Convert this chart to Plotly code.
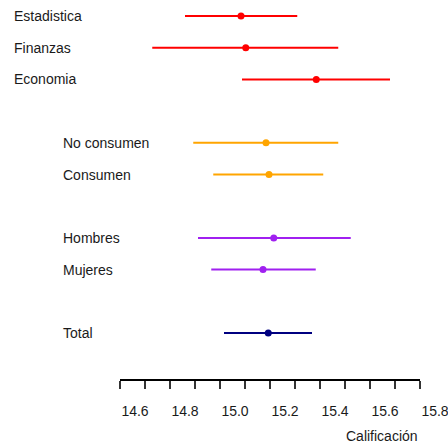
import plotly.graph_objects as go

# Data
labels = ["Estadistica", "Finanzas", "Economia", "No consumen", "Consumen",
          "Hombres", "Mujeres", "Total"]
rows = [0, 1, 2, 4, 5, 7, 8, 10]
indent = [0, 0, 0, 1, 1, 1, 1, 1]
means = [15.084, 15.103, 15.385, 15.184, 15.196, 15.215, 15.172, 15.193]
lower = [14.860, 14.729, 15.088, 14.893, 14.973, 14.912, 14.965, 15.016]
upper = [15.309, 15.473, 15.680, 15.473, 15.413, 15.523, 15.383, 15.368]
colors = ["#FF0000", "#FF0000", "#FF0000", "#FFA500", "#FFA500",
          "#A020F0", "#A020F0", "#000080"]
tick_vals = [round(14.6 + 0.1 * i, 1) for i in range(13)]
tick_text = [f"{v:.1f}" if i % 2 == 0 else "" for i, v in enumerate(tick_vals)]
x_title = "Calificación"

W, H = 448, 448
fig = go.Figure()
for lab, r, m, lo, hi, c in zip(labels, rows, means, lower, upper, colors):
    fig.add_trace(go.Scatter(
        x=[m], y=[r], mode="markers",
        marker=dict(color=c, size=7),
        error_x=dict(type="data", symmetric=False, array=[hi - m],
                     arrayminus=[m - lo], color=c, thickness=2, width=0),
        showlegend=False, hoverinfo="skip", name=lab, cliponaxis=False))

for lab, r, ind in zip(labels, rows, indent):
    fig.add_annotation(text=lab, x=(12 if ind == 0 else 61) / W, xref="paper",
                       y=r, yref="y", xanchor="left", yanchor="middle",
                       showarrow=False, font=dict(size=14, color="#1a1a1a"))

fig.add_annotation(text=x_title, x=15.8, xref="x", xanchor="right",
                   y=(H - 436) / H, yref="paper", yanchor="middle",
                   showarrow=False, font=dict(size=14, color="#1a1a1a"))

row_px = 31.7
row0_px = 16
fig.update_layout(
    width=W, height=H,
    margin=dict(l=0, r=0, t=0, b=0, autoexpand=False),
    paper_bgcolor="white", plot_bgcolor="white",
    font=dict(family="Liberation Sans, Arial, sans-serif", color="#1a1a1a"),
    xaxis=dict(range=[14.6, 15.8], domain=[120 / W, 420 / W],
               showgrid=False, zeroline=False, showline=True,
               linecolor="black", linewidth=1.5, automargin=False,
               anchor="free", position=(H - 380) / H,
               tickmode="array", tickvals=tick_vals, ticktext=tick_text,
               ticks="outside", ticklen=8, tickwidth=1.5, tickcolor="#333",
               ticklabelshift=15, ticklabelstandoff=10,
               ticklabeloverflow="allow",
               tickfont=dict(size=14, color="#1a1a1a")),
    yaxis=dict(range=[(H - row0_px) / row_px, -row0_px / row_px],
               visible=False, showgrid=False, zeroline=False,
               automargin=False),
)
fig.write_html("out.html",
               config={"displayModeBar": False},
               post_script="document.body.style.margin='0';"
                           "document.body.style.overflow='hidden';")
